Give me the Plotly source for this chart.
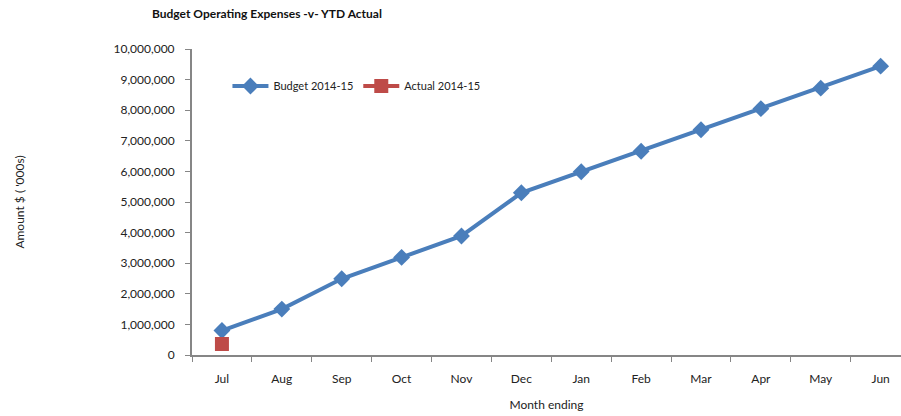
import plotly.graph_objects as go

# Month-ending categories for the financial year
months = ["Jul", "Aug", "Sep", "Oct", "Nov", "Dec",
          "Jan", "Feb", "Mar", "Apr", "May", "Jun"]

# Cumulative budget, 2014-15
budget_2014_15 = [800000, 1500000, 2490000, 3190000, 3890000, 5300000,
                  5990000, 6660000, 7360000, 8050000, 8720000, 9440000]

# Year-to-date actual, 2014-15 (only July reported so far)
actual_months = ["Jul"]
actual_2014_15 = [360000]

y_ticks = list(range(0, 10000001, 1000000))

FONT = "Lato, 'Open Sans', sans-serif"
BLUE = "#4A7EBB"
RED = "#BE4B48"

fig = go.Figure()
fig.add_trace(go.Scatter(
    x=months, y=budget_2014_15, name="Budget 2014-15",
    mode="lines+markers",
    line=dict(color=BLUE, width=4),
    marker=dict(symbol="diamond", size=13, color=BLUE),
))
fig.add_trace(go.Scatter(
    x=actual_months, y=actual_2014_15, name="Actual 2014-15",
    mode="lines+markers",
    line=dict(color=RED, width=4),
    marker=dict(symbol="square", size=14, color=RED),
))

fig.update_layout(
    width=901, height=416,
    margin=dict(l=192, r=0, t=49, b=61),
    paper_bgcolor="white", plot_bgcolor="white",
    font=dict(family=FONT, size=11, color="#222"),
    title=dict(text="<b>Budget Operating Expenses -v- YTD Actual</b>",
               x=152 / 901, xanchor="left", y=1 - 14 / 416, yanchor="middle",
               font=dict(size=12, color="#111")),
    legend=dict(orientation="h", x=0.05, xanchor="left", y=0.879, yanchor="middle",
                font=dict(size=11), itemwidth=36, tracegroupgap=0,
                bgcolor="rgba(0,0,0,0)"),
    showlegend=True,
)

fig.update_xaxes(
    type="category", range=[-0.5, 11.34],
    showline=True, linecolor="#868686", linewidth=2,
    ticks="outside", tickson="boundaries", ticklen=5, tickcolor="#868686", tickwidth=1,
    ticklabelstandoff=12,
    showgrid=False, zeroline=False,
    tickfont=dict(size=12, color="#222"),
    title=dict(text="Month ending", font=dict(size=12, color="#222"), standoff=15),
)
fig.update_yaxes(
    range=[0, 10000000], tickvals=y_ticks, tickformat=",d",
    showline=True, linecolor="#868686", linewidth=2,
    ticks="outside", ticklen=5, tickcolor="#868686", tickwidth=1,
    ticklabelstandoff=8,
    showgrid=False, zeroline=False,
    tickfont=dict(size=12, color="#222"),
    title=dict(text="Amount $ ( '000s)", font=dict(size=12, color="#222"), standoff=86),
)

fig.write_html("out.html")
